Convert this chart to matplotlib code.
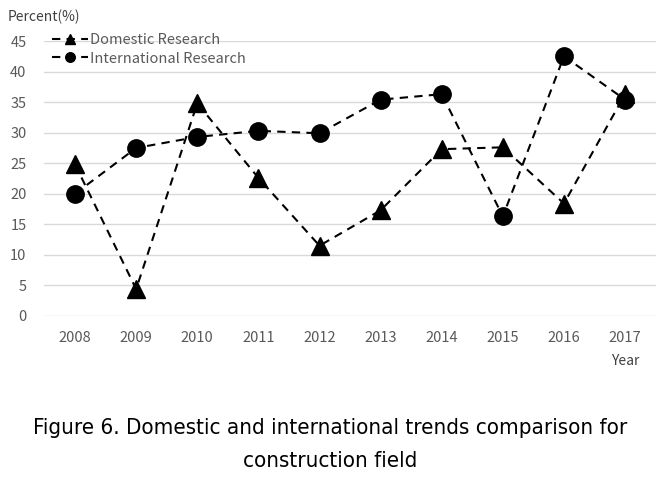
import matplotlib.pyplot as plt

plt.rcParams['font.family'] = ['Noto Sans CJK KR', 'DejaVu Sans']

years = ['2008', '2009', '2010', '2011', '2012', '2013', '2014', '2015', '2016', '2017']
domestic = [24.8, 4.4, 34.8, 22.6, 11.5, 17.3, 27.3, 27.6, 18.4, 36.3]
international = [20.0, 27.5, 29.3, 30.3, 29.9, 35.4, 36.3, 16.3, 42.5, 35.4]
yticks = [0, 5, 10, 15, 20, 25, 30, 35, 40, 45]

fig = plt.figure(figsize=(6.6, 4.83), dpi=100)
ax = fig.add_axes([0.0674, 0.3458, 0.926, 0.5693])

x = list(range(len(years)))
ax.plot(x, domestic, linestyle=(0, (4, 3)), color='black', linewidth=1.5,
        marker='^', markersize=13.5, label='Domestic Research', zorder=3)
ax.plot(x, international, linestyle=(0, (4, 3)), color='black', linewidth=1.5,
        marker='o', markersize=12.5, label='International Research', zorder=3)

ax.set_xlim(-0.5, len(years) - 0.5)
ax.set_ylim(0, 45)
ax.set_xticks(x)
ax.set_xticklabels(years)
ax.set_yticks(yticks)
ax.grid(axis='y', color='#d9d9d9', linewidth=1)
ax.set_axisbelow(True)
for s in ax.spines.values():
    s.set_visible(False)
ax.tick_params(length=0, labelsize=10.5, labelcolor='#595959', pad=11)
ax.tick_params(axis='y', pad=13)

leg = ax.legend(loc='upper left', bbox_to_anchor=(0.0, 1.055), frameon=False,
                fontsize=10.5, handlelength=2.5, handletextpad=0.1,
                labelspacing=0.3, borderaxespad=0.1, markerscale=0.55)
for t in leg.get_texts():
    t.set_color('#595959')

fig.text(0.012, 0.966, 'Percent(%)', fontsize=10, color='#404040', va='center')
fig.text(0.947, 0.252, 'Year', fontsize=10, color='#404040', va='center', ha='center')

fig.text(0.5, 0.113, 'Figure 6. Domestic and international trends comparison for',
         fontsize=16, ha='center', va='center', family='DejaVu Sans', fontstretch='condensed')
fig.text(0.5, 0.045, 'construction field',
         fontsize=16, ha='center', va='center', family='DejaVu Sans', fontstretch='condensed')

fig.savefig('out.png', dpi=100)
